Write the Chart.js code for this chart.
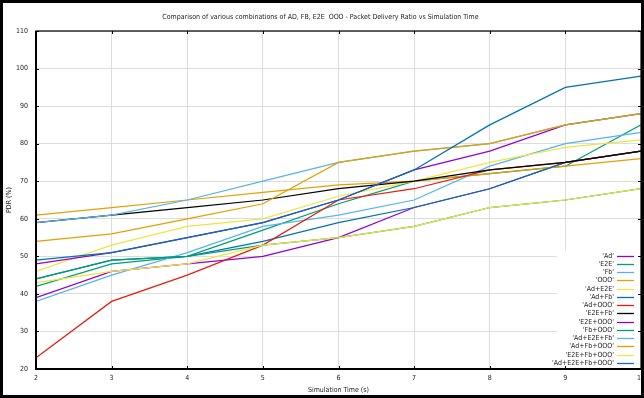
<!DOCTYPE html>
<html>
<head>
<meta charset="utf-8">
<title>Packet Delivery Ratio vs Simulation Time</title>
<script src="https://cdn.jsdelivr.net/npm/chart.js@4.4.0/dist/chart.umd.min.js"></script>
<style>
  html, body { margin: 0; padding: 0; background: #fff; }
  #pdrChart { display: block; }
</style>
</head>
<body>
<canvas id="pdrChart" width="644" height="398"></canvas>
<script>
// simulation time (s) on the x axis
const simTime = [2, 3, 4, 5, 6, 7, 8, 9, 10];

// PDR (%) for every combination, one value per simulation time
const ad           = [39, 46, 48, 50, 55, 63, 68, 75, 78];
const e2e          = [42, 48, 50, 57, 64, 70, 72, 74, 85];
const fb           = [38, 45, 51, 58, 61, 65, 74, 80, 83];
const ooo          = [61, 63, 65, 67, 69, 70, 72, 74, 76];
const adE2e        = [46, 53, 58, 60, 66, 70, 75, 79, 81];
const adFb         = [44, 49, 50, 54, 59, 63, 68, 75, 78];
const adOoo        = [23, 38, 45, 53, 65, 68, 73, 75, 78];
const e2eFb        = [59, 61, 63, 65, 68, 70, 73, 75, 78];
const e2eOoo       = [48, 51, 55, 59, 65, 73, 78, 85, 88];
const fbOoo        = [44, 49, 50, 53, 55, 58, 63, 65, 68];
const adE2eFb      = [59, 61, 65, 70, 75, 78, 80, 85, 88];
const adFbOoo      = [54, 56, 60, 64, 75, 78, 80, 85, 88];
const e2eFbOoo     = [43, 46, 48, 53, 55, 58, 63, 65, 68];
const adE2eFbOoo   = [49, 51, 55, 59, 65, 73, 85, 95, 98];

const seriesNames = ['Ad', 'E2E', 'Fb', 'OOO', 'Ad+E2E', 'Ad+Fb', 'Ad+OOO', 'E2E+Fb',
                     'E2E+OOO', 'Fb+OOO', 'Ad+E2E+Fb', 'Ad+Fb+OOO', 'E2E+Fb+OOO', 'Ad+E2E+Fb+OOO'];
const seriesValues = [ad, e2e, fb, ooo, adE2e, adFb, adOoo, e2eFb,
                      e2eOoo, fbOoo, adE2eFb, adFbOoo, e2eFbOoo, adE2eFbOoo];

// default gnuplot line colours, the palette repeats after 8
const palette = ['#9400d3', '#009e73', '#56b4e9', '#e69f00', '#f0e442', '#0072b2', '#e51e10', '#000000'];

const titleText = 'Comparison of various combinations of AD, FB, E2E  OOO - Packet Delivery Ratio vs Simulation Time';

const FONT = "'Liberation Sans Narrow', 'DejaVu Sans Condensed', 'Liberation Sans', sans-serif";
const TEXT_COLOR = '#222';

Chart.defaults.font.family = FONT;
Chart.defaults.font.size = 7;
Chart.defaults.color = TEXT_COLOR;

const datasets = seriesNames.map((name, i) => ({
    label: name,
    data: simTime.map((t, j) => ({ x: t, y: seriesValues[i][j] })),
    borderColor: palette[i % palette.length],
    backgroundColor: palette[i % palette.length],
    borderWidth: 1.25,
    pointRadius: 0,
    tension: 0,
    fill: false,
    order: seriesNames.length - i   // later series are drawn on top
}));

// key box in the lower right corner, plot border with inward ticks, outer frame
const gnuplotDecor = {
    id: 'gnuplotDecor',
    afterDatasetsDraw(chart) {
        const { ctx, chartArea: a } = chart;
        const rowH = 8.25;
        const textRight = a.right - 27;
        const sampleL = a.right - 24;
        const sampleR = a.right - 7;
        const firstY = a.bottom - 113.3;

        ctx.save();
        ctx.fillStyle = '#fff';
        ctx.fillRect(a.right - 84, firstY - 4.5, 84, a.bottom - firstY + 4.5);

        ctx.font = '7px ' + FONT;
        ctx.textAlign = 'right';
        ctx.textBaseline = 'middle';
        chart.data.datasets.forEach((ds, i) => {
            const y = firstY + i * rowH;
            ctx.fillStyle = TEXT_COLOR;
            ctx.fillText("'" + ds.label + "'", textRight, y);
            ctx.strokeStyle = ds.borderColor;
            ctx.lineWidth = 1.3;
            ctx.beginPath();
            ctx.moveTo(sampleL, Math.round(y) + 0.5);
            ctx.lineTo(sampleR, Math.round(y) + 0.5);
            ctx.stroke();
        });
        ctx.restore();
    },
    afterDraw(chart) {
        const { ctx, chartArea: a, scales } = chart;
        ctx.save();
        ctx.strokeStyle = '#000';

        // ticks pointing into the plot on all four sides
        ctx.lineWidth = 1;
        ctx.beginPath();
        scales.x.ticks.forEach(t => {
            const px = Math.round(scales.x.getPixelForValue(t.value)) + 0.5;
            ctx.moveTo(px, a.top); ctx.lineTo(px, a.top + 3);
            ctx.moveTo(px, a.bottom); ctx.lineTo(px, a.bottom - 3);
        });
        scales.y.ticks.forEach(t => {
            const py = Math.round(scales.y.getPixelForValue(t.value)) + 0.5;
            ctx.moveTo(a.left, py); ctx.lineTo(a.left + 3, py);
            ctx.moveTo(a.right, py); ctx.lineTo(a.right - 3, py);
        });
        ctx.stroke();

        // plot border, left and bottom a bit heavier
        ctx.lineWidth = 1.2;
        ctx.strokeRect(a.left, a.top, a.right - a.left, a.bottom - a.top);
        ctx.lineWidth = 2;
        ctx.beginPath();
        ctx.moveTo(a.left, a.top); ctx.lineTo(a.left, a.bottom);
        ctx.lineTo(a.right, a.bottom);
        ctx.stroke();

        // black frame around the whole picture
        ctx.lineWidth = 3;
        ctx.strokeRect(1.5, 1.5, chart.width - 3, chart.height - 3);
        ctx.restore();
    }
};

new Chart(document.getElementById('pdrChart'), {
    type: 'line',
    data: { datasets: datasets },
    plugins: [gnuplotDecor],
    options: {
        responsive: false,
        animation: false,
        layout: { padding: { left: 0, right: 3, top: 0, bottom: 0 } },
        plugins: {
            legend: { display: false },
            tooltip: { enabled: false },
            title: {
                display: true,
                text: titleText,
                color: TEXT_COLOR,
                font: { size: 7, weight: 'normal' },
                padding: { top: 13, bottom: 9.6 }
            }
        },
        scales: {
            x: {
                type: 'linear',
                min: 2,
                max: 10,
                ticks: { stepSize: 1, padding: 5, color: TEXT_COLOR },
                grid: { color: '#dcdcdc', lineWidth: 1, drawTicks: false },
                border: { display: false },
                title: {
                    display: true,
                    text: 'Simulation Time (s)',
                    color: TEXT_COLOR,
                    padding: { top: 0, bottom: 3.8 }
                },
                afterFit: (s) => {
                    s.height = 29;
                    s.paddingLeft = 0;
                    s.paddingRight = 0;
                }
            },
            y: {
                min: 20,
                max: 110,
                ticks: { stepSize: 10, padding: 8, color: TEXT_COLOR },
                grid: { color: '#dcdcdc', lineWidth: 1, drawTicks: false },
                border: { display: false },
                title: {
                    display: true,
                    text: 'PDR (%)',
                    color: TEXT_COLOR,
                    padding: { top: 5, bottom: 0 }
                },
                afterFit: (s) => {
                    s.width = 36;
                    s.paddingTop = 0;
                    s.paddingBottom = 0;
                }
            }
        }
    }
});
</script>
</body>
</html>
